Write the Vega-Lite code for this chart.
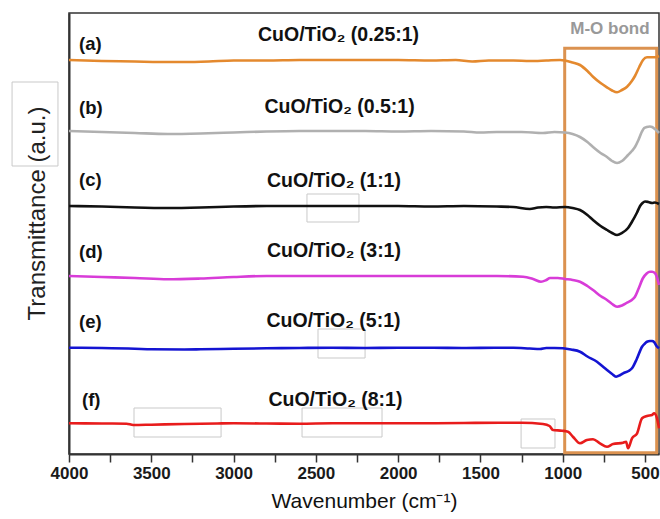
{
  "$schema": "https://vega.github.io/schema/vega-lite/v6.json",
  "width": 590,
  "height": 441,
  "autosize": {"type": "none"},
  "padding": {"left": 69, "top": 13, "right": 1, "bottom": 65},
  "background": "white",
  "config": {
    "view": {"stroke": "#333333", "strokeWidth": 1.5},
    "font": "Liberation Sans"
  },
  "datasets": {
    "spectra": [
      {"s":"a","wn":4000,"t":394},{"s":"a","wn":3800,"t":393},{"s":"a","wn":3600,"t":392.5},{"s":"a","wn":3450,"t":392},{"s":"a","wn":3300,"t":392},{"s":"a","wn":3150,"t":392.5},{"s":"a","wn":3000,"t":393.5},{"s":"a","wn":2800,"t":393.5},{"s":"a","wn":2600,"t":394},{"s":"a","wn":2400,"t":394},{"s":"a","wn":2200,"t":394},{"s":"a","wn":2000,"t":394},{"s":"a","wn":1800,"t":393.5},{"s":"a","wn":1650,"t":394},{"s":"a","wn":1550,"t":392.5},{"s":"a","wn":1450,"t":393.5},{"s":"a","wn":1300,"t":393.5},{"s":"a","wn":1200,"t":393},{"s":"a","wn":1100,"t":393.5},{"s":"a","wn":1016,"t":394},{"s":"a","wn":940,"t":391.5},{"s":"a","wn":895,"t":389},{"s":"a","wn":850,"t":383},{"s":"a","wn":816,"t":377.3},{"s":"a","wn":770,"t":371},{"s":"a","wn":731,"t":366.7},{"s":"a","wn":700,"t":363.5},{"s":"a","wn":670,"t":361.7},{"s":"a","wn":640,"t":364},{"s":"a","wn":609,"t":367.3},{"s":"a","wn":580,"t":373},{"s":"a","wn":561,"t":378},{"s":"a","wn":535,"t":387},{"s":"a","wn":512,"t":394},{"s":"a","wn":488,"t":396.7},{"s":"a","wn":460,"t":396.7},{"s":"a","wn":439,"t":396.7},{"s":"a","wn":415,"t":398},
      {"s":"b","wn":4000,"t":323},{"s":"b","wn":3800,"t":322},{"s":"b","wn":3600,"t":321},{"s":"b","wn":3400,"t":320},{"s":"b","wn":3200,"t":320.5},{"s":"b","wn":3000,"t":321.5},{"s":"b","wn":2800,"t":322.5},{"s":"b","wn":2600,"t":323},{"s":"b","wn":2400,"t":323},{"s":"b","wn":2200,"t":323},{"s":"b","wn":2000,"t":322.5},{"s":"b","wn":1800,"t":323},{"s":"b","wn":1600,"t":322.5},{"s":"b","wn":1500,"t":321.5},{"s":"b","wn":1400,"t":322},{"s":"b","wn":1250,"t":322},{"s":"b","wn":1120,"t":321},{"s":"b","wn":1050,"t":322},{"s":"b","wn":986,"t":321.5},{"s":"b","wn":940,"t":320},{"s":"b","wn":895,"t":317},{"s":"b","wn":850,"t":312},{"s":"b","wn":816,"t":307},{"s":"b","wn":770,"t":301},{"s":"b","wn":731,"t":297},{"s":"b","wn":700,"t":293},{"s":"b","wn":670,"t":291},{"s":"b","wn":640,"t":293},{"s":"b","wn":603,"t":299},{"s":"b","wn":580,"t":303},{"s":"b","wn":561,"t":307},{"s":"b","wn":540,"t":314},{"s":"b","wn":520,"t":322},{"s":"b","wn":505,"t":326},{"s":"b","wn":490,"t":327},{"s":"b","wn":470,"t":327.5},{"s":"b","wn":457,"t":327},{"s":"b","wn":440,"t":325},{"s":"b","wn":415,"t":321},
      {"s":"c","wn":4000,"t":248},{"s":"c","wn":3800,"t":247.5},{"s":"c","wn":3600,"t":246.5},{"s":"c","wn":3400,"t":246},{"s":"c","wn":3200,"t":246.5},{"s":"c","wn":3000,"t":247.5},{"s":"c","wn":2800,"t":248},{"s":"c","wn":2600,"t":248},{"s":"c","wn":2400,"t":248},{"s":"c","wn":2200,"t":248},{"s":"c","wn":2000,"t":248},{"s":"c","wn":1800,"t":247.5},{"s":"c","wn":1600,"t":248},{"s":"c","wn":1400,"t":247.5},{"s":"c","wn":1300,"t":247},{"s":"c","wn":1200,"t":245},{"s":"c","wn":1150,"t":246.5},{"s":"c","wn":1100,"t":247},{"s":"c","wn":1050,"t":246.5},{"s":"c","wn":986,"t":247},{"s":"c","wn":940,"t":246},{"s":"c","wn":895,"t":244},{"s":"c","wn":850,"t":239},{"s":"c","wn":816,"t":234},{"s":"c","wn":770,"t":228},{"s":"c","wn":731,"t":224},{"s":"c","wn":700,"t":221},{"s":"c","wn":670,"t":219},{"s":"c","wn":640,"t":221},{"s":"c","wn":603,"t":226},{"s":"c","wn":580,"t":232},{"s":"c","wn":550,"t":241},{"s":"c","wn":530,"t":248},{"s":"c","wn":515,"t":251},{"s":"c","wn":500,"t":252.5},{"s":"c","wn":480,"t":252},{"s":"c","wn":457,"t":251},{"s":"c","wn":440,"t":251.5},{"s":"c","wn":415,"t":250},
      {"s":"d","wn":4000,"t":178},{"s":"d","wn":3800,"t":177},{"s":"d","wn":3600,"t":176},{"s":"d","wn":3400,"t":174.7},{"s":"d","wn":3200,"t":175.5},{"s":"d","wn":3000,"t":177},{"s":"d","wn":2800,"t":178},{"s":"d","wn":2600,"t":178},{"s":"d","wn":2400,"t":178},{"s":"d","wn":2200,"t":178},{"s":"d","wn":2000,"t":178},{"s":"d","wn":1800,"t":178},{"s":"d","wn":1600,"t":178},{"s":"d","wn":1400,"t":178},{"s":"d","wn":1241,"t":177.3},{"s":"d","wn":1180,"t":175},{"s":"d","wn":1132,"t":172.3},{"s":"d","wn":1100,"t":174},{"s":"d","wn":1077,"t":176},{"s":"d","wn":1030,"t":176},{"s":"d","wn":986,"t":175},{"s":"d","wn":940,"t":174},{"s":"d","wn":895,"t":172.3},{"s":"d","wn":850,"t":168},{"s":"d","wn":816,"t":164},{"s":"d","wn":770,"t":158},{"s":"d","wn":731,"t":154},{"s":"d","wn":700,"t":150},{"s":"d","wn":670,"t":147.3},{"s":"d","wn":640,"t":148.5},{"s":"d","wn":609,"t":151.3},{"s":"d","wn":580,"t":154},{"s":"d","wn":561,"t":157.3},{"s":"d","wn":540,"t":165},{"s":"d","wn":512,"t":176},{"s":"d","wn":490,"t":180.5},{"s":"d","wn":470,"t":182.3},{"s":"d","wn":457,"t":182.3},{"s":"d","wn":440,"t":181},{"s":"d","wn":430,"t":178},{"s":"d","wn":415,"t":169},
      {"s":"e","wn":4000,"t":106.3},{"s":"e","wn":3800,"t":106},{"s":"e","wn":3600,"t":105.3},{"s":"e","wn":3500,"t":104.7},{"s":"e","wn":3300,"t":104.5},{"s":"e","wn":3200,"t":104.7},{"s":"e","wn":3000,"t":105.3},{"s":"e","wn":2800,"t":105.7},{"s":"e","wn":2600,"t":106},{"s":"e","wn":2400,"t":106.3},{"s":"e","wn":2200,"t":106},{"s":"e","wn":2000,"t":106.3},{"s":"e","wn":1800,"t":106.3},{"s":"e","wn":1600,"t":106},{"s":"e","wn":1400,"t":106.3},{"s":"e","wn":1300,"t":106.3},{"s":"e","wn":1200,"t":105.5},{"s":"e","wn":1138,"t":105},{"s":"e","wn":1100,"t":106},{"s":"e","wn":1050,"t":106},{"s":"e","wn":998,"t":105.7},{"s":"e","wn":950,"t":104.5},{"s":"e","wn":895,"t":102.3},{"s":"e","wn":850,"t":97.5},{"s":"e","wn":792,"t":92.3},{"s":"e","wn":760,"t":88},{"s":"e","wn":731,"t":84},{"s":"e","wn":700,"t":80},{"s":"e","wn":676,"t":77.3},{"s":"e","wn":650,"t":79},{"s":"e","wn":633,"t":80.7},{"s":"e","wn":600,"t":83},{"s":"e","wn":579,"t":85.7},{"s":"e","wn":550,"t":95},{"s":"e","wn":518,"t":107.3},{"s":"e","wn":500,"t":110.5},{"s":"e","wn":488,"t":112.3},{"s":"e","wn":470,"t":113},{"s":"e","wn":457,"t":113},{"s":"e","wn":445,"t":112},{"s":"e","wn":430,"t":108},{"s":"e","wn":415,"t":105.7},
      {"s":"f","wn":4000,"t":30.7},{"s":"f","wn":3800,"t":30.5},{"s":"f","wn":3650,"t":30.3},{"s":"f","wn":3610,"t":29},{"s":"f","wn":3500,"t":29.3},{"s":"f","wn":3300,"t":30},{"s":"f","wn":3100,"t":30.5},{"s":"f","wn":3000,"t":30.7},{"s":"f","wn":2800,"t":30.5},{"s":"f","wn":2600,"t":30.3},{"s":"f","wn":2400,"t":30.7},{"s":"f","wn":2200,"t":30.7},{"s":"f","wn":2000,"t":30.7},{"s":"f","wn":1800,"t":30.7},{"s":"f","wn":1600,"t":31},{"s":"f","wn":1381,"t":31.3},{"s":"f","wn":1250,"t":31.3},{"s":"f","wn":1120,"t":30},{"s":"f","wn":1080,"t":28},{"s":"f","wn":1059,"t":24},{"s":"f","wn":1004,"t":23.3},{"s":"f","wn":968,"t":22.3},{"s":"f","wn":938,"t":17.3},{"s":"f","wn":895,"t":10.7},{"s":"f","wn":853,"t":14},{"s":"f","wn":816,"t":14.7},{"s":"f","wn":774,"t":10.7},{"s":"f","wn":731,"t":7.3},{"s":"f","wn":694,"t":10},{"s":"f","wn":633,"t":11.3},{"s":"f","wn":615,"t":12.3},{"s":"f","wn":603,"t":5.7},{"s":"f","wn":579,"t":15.7},{"s":"f","wn":548,"t":20.7},{"s":"f","wn":518,"t":35.7},{"s":"f","wn":488,"t":38},{"s":"f","wn":457,"t":39},{"s":"f","wn":445,"t":40.7},{"s":"f","wn":427,"t":35.7},{"s":"f","wn":415,"t":25.7}
    ],
    "labels": [
      {"s":"a","tag":"(a)","wnTag":3939,"yTag":410,"name":"CuO/TiO₂ (0.25:1)","wnName":2362,"yName":419},
      {"s":"b","tag":"(b)","wnTag":3939,"yTag":346,"name":"CuO/TiO₂ (0.5:1)","wnName":2356,"yName":347},
      {"s":"c","tag":"(c)","wnTag":3939,"yTag":274,"name":"CuO/TiO₂ (1:1)","wnName":2390,"yName":273},
      {"s":"d","tag":"(d)","wnTag":3939,"yTag":202,"name":"CuO/TiO₂ (3:1)","wnName":2390,"yName":203},
      {"s":"e","tag":"(e)","wnTag":3939,"yTag":132,"name":"CuO/TiO₂ (5:1)","wnName":2393,"yName":133},
      {"s":"f","tag":"(f)","wnTag":3921,"yTag":54,"name":"CuO/TiO₂ (8:1)","wnName":2381,"yName":54}
    ],
    "greyBoxes": [
      {"x1":2554,"x2":2238,"y1":260,"y2":232},
      {"x1":2487,"x2":2201,"y1":125,"y2":96},
      {"x1":3605,"x2":3076,"y1":46,"y2":17},
      {"x1":2584,"x2":2098,"y1":46,"y2":17},
      {"x1":1253,"x2":1047,"y1":35,"y2":6},
      {"x1":4346,"x2":4067,"y1":372,"y2":288}
    ],
    "region": [
      {"x1":988,"x2":429,"y1":405.7,"y2":1.3,"note":"M-O bond","wnNote":713,"yNote":425}
    ]
  },
  "layer": [
    {
      "data": {"name": "greyBoxes"},
      "mark": {"type": "rect", "fill": null, "fillOpacity": 0, "stroke": "#c9c9c9", "strokeWidth": 1},
      "encoding": {
        "x": {"field": "x1", "type": "quantitative", "scale": {"domain": [415, 4000], "reverse": true, "nice": false, "zero": false},
              "axis": {"values": [4000,3750,3500,3250,3000,2750,2500,2250,2000,1750,1500,1250,1000,750,500],
                       "labelExpr": "datum.value % 500 === 0 ? datum.label : ''",
                       "format": "d",
                       "labelFont": "Liberation Sans", "labelFontSize": 17, "labelFontWeight": "bold", "labelColor": "#1a1a1a",
                       "labelPadding": 3, "labelFlush": false, "labelOverlap": false,
                       "tickColor": "#333333", "tickWidth": 1.5, "tickSize": 8,
                       "encode": {"ticks": {"update": {"y2": {"signal": "datum.value % 500 === 0 ? 8 : 4"}}}},
                       "domainColor": "#333333", "domainWidth": 2, "grid": false,
                       "title": "Wavenumber (cm⁻¹)", "titleFont": "Liberation Sans", "titleFontSize": 21, "titleFontWeight": "normal", "titleColor": "#111111", "titlePadding": 9}},
        "x2": {"field": "x2"},
        "y": {"field": "y1", "type": "quantitative", "scale": {"domain": [0, 441], "nice": false, "zero": false},
              "axis": {"ticks": false, "labels": false, "grid": false, "domainColor": "#333333", "domainWidth": 2,
                       "title": "Transmittance (a.u.)", "titleFont": "Liberation Sans", "titleFontSize": 24, "titleFontWeight": "normal", "titleColor": "#222222",
                       "titleAngle": -90, "titleX": -25, "titleY": 200, "titleBaseline": "alphabetic", "titleAlign": "center"}},
        "y2": {"field": "y2"}
      }
    },
    {
      "data": {"name": "region"},
      "mark": {"type": "rect", "fill": null, "fillOpacity": 0, "stroke": "#DB9250", "strokeWidth": 3},
      "encoding": {
        "x": {"field": "x1", "type": "quantitative"},
        "x2": {"field": "x2"},
        "y": {"field": "y1", "type": "quantitative"},
        "y2": {"field": "y2"}
      }
    },
    {
      "data": {"name": "region"},
      "mark": {"type": "text", "font": "Liberation Sans", "fontSize": 17, "fontWeight": "bold", "color": "#999999", "align": "center", "baseline": "middle"},
      "encoding": {
        "x": {"field": "wnNote", "type": "quantitative"},
        "y": {"field": "yNote", "type": "quantitative"},
        "text": {"field": "note"}
      }
    },
    {
      "data": {"name": "spectra"},
      "mark": {"type": "line", "strokeWidth": 2.6, "interpolate": "monotone"},
      "encoding": {
        "x": {"field": "wn", "type": "quantitative"},
        "y": {"field": "t", "type": "quantitative"},
        "color": {"field": "s", "type": "nominal", "legend": null,
                  "scale": {"domain": ["a","b","c","d","e","f"], "range": ["#E4892E","#B0B0B0","#111111","#D83CD8","#1414D2","#E81C1C"]}}
      }
    },
    {
      "data": {"name": "labels"},
      "mark": {"type": "text", "font": "Liberation Sans", "fontSize": 18.5, "fontWeight": "bold", "color": "#111111", "align": "left", "baseline": "middle"},
      "encoding": {
        "x": {"field": "wnTag", "type": "quantitative"},
        "y": {"field": "yTag", "type": "quantitative"},
        "text": {"field": "tag"}
      }
    },
    {
      "data": {"name": "labels"},
      "mark": {"type": "text", "font": "Liberation Sans", "fontSize": 19.5, "fontWeight": "bold", "color": "#111111", "align": "center", "baseline": "middle"},
      "encoding": {
        "x": {"field": "wnName", "type": "quantitative"},
        "y": {"field": "yName", "type": "quantitative"},
        "text": {"field": "name"}
      }
    }
  ]
}
